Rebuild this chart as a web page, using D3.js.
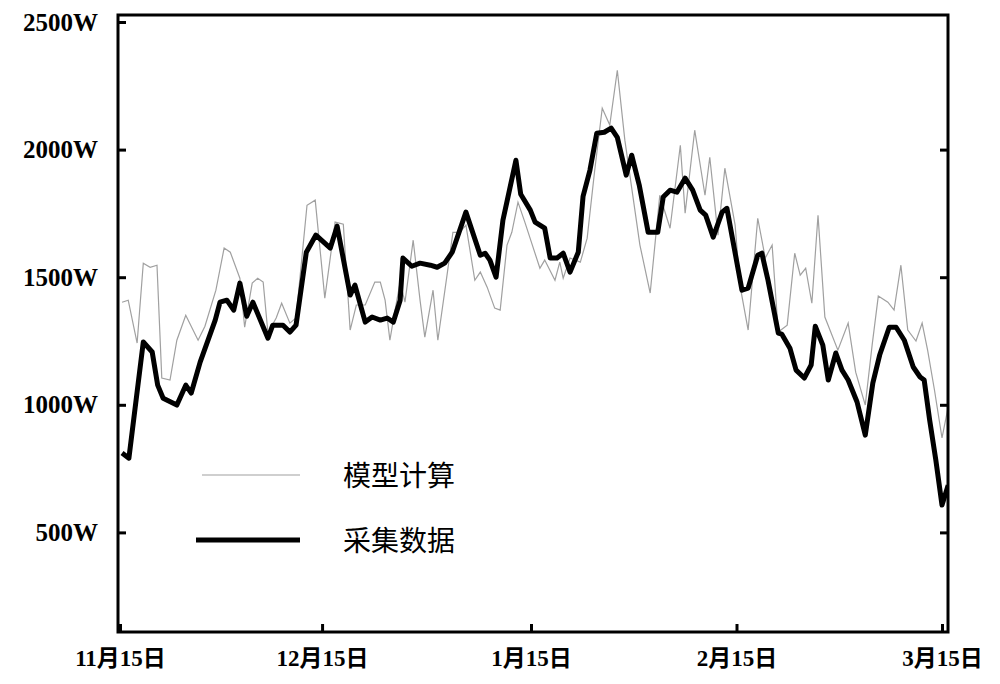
<!DOCTYPE html>
<html>
<head>
<meta charset="utf-8">
<script src="https://cdn.jsdelivr.net/npm/d3@7"></script>
<style>
  body { margin: 0; background: #fff; }
  .tick text { font-family: "Liberation Serif", "Noto Sans CJK SC", serif; font-weight: bold; font-size: 25px; fill: #000; }
</style>
</head>
<body>
<svg id="chart" width="1000" height="684"></svg>
<script>
// days since 11月15日, watts
const measuredDays = [0.3,1.3,3.4,4.7,5.5,6.3,8.3,9.6,10.4,11.7,13.9,14.6,15.6,16.6,17.5,18.5,19.4,21.6,22.3,23.8,24.8,25.7,27.2,28.6,30.7,31.7,33.6,34.3,35.8,36.8,38.0,39.0,39.9,40.9,41.3,42.6,43.8,45.3,46.3,47.4,48.5,50.5,52.6,53.3,54.0,54.9,55.9,57.8,58.5,59.9,60.6,62.0,62.8,63.8,64.7,65.7,66.9,67.6,68.6,69.6,70.7,71.7,72.6,73.9,74.7,75.8,77.1,78.5,79.3,80.3,81.3,82.5,83.6,84.7,85.5,86.6,87.9,88.6,90.8,91.7,93.1,93.7,94.6,96.1,96.6,97.8,98.7,99.9,100.9,101.5,102.6,103.4,104.5,105.4,106.3,107.6,108.8,109.9,110.9,112.3,113.3,114.5,115.8,116.8,117.4,118.2,119.1,120.0,120.9];
const measuredW = [811,791,1246,1207,1077,1026,999,1077,1046,1167,1332,1402,1410,1371,1477,1347,1402,1261,1312,1312,1285,1312,1598,1665,1614,1700,1430,1469,1324,1344,1332,1340,1324,1410,1575,1543,1555,1547,1539,1555,1598,1755,1586,1594,1567,1500,1723,1958,1825,1763,1716,1692,1575,1575,1594,1520,1598,1817,1919,2064,2068,2084,2048,1900,1978,1861,1676,1676,1814,1841,1833,1888,1841,1763,1743,1657,1755,1770,1449,1457,1586,1594,1488,1281,1277,1222,1136,1105,1156,1308,1234,1097,1203,1136,1097,1011,881,1085,1195,1304,1304,1253,1148,1109,1097,940,783,607,685];

const modelDays = [0.3,1.2,2.5,3.4,4.4,5.4,6.1,7.3,8.3,9.6,11.4,12.4,14.0,15.2,16.1,17.5,18.2,19.3,20.1,20.9,21.6,22.8,23.6,24.8,25.7,27.3,28.5,29.9,31.4,32.6,33.6,34.5,35.8,37.2,38.0,38.7,39.4,40.1,40.9,41.6,42.8,43.8,44.5,45.7,46.4,47.7,48.6,49.6,50.5,51.8,52.6,53.6,54.7,55.5,56.5,57.2,58.1,59.1,61.3,62.0,63.5,64.2,64.7,65.7,67.2,68.2,69.3,70.4,71.5,72.6,73.7,75.9,77.4,78.8,80.3,81.8,82.5,83.9,85.4,86.1,87.3,88.3,89.8,90.5,91.7,93.1,94.2,95.2,96.1,97.4,98.5,99.3,100.1,101.0,101.9,102.9,104.8,106.3,107.4,108.8,109.8,110.7,112.1,113.0,114.0,115.0,116.2,117.1,117.9,118.9,120.0,120.9];
const modelW = [1402,1410,1242,1555,1539,1547,1105,1097,1253,1351,1253,1308,1449,1614,1598,1496,1304,1477,1496,1481,1281,1340,1398,1320,1340,1782,1802,1418,1716,1708,1293,1391,1391,1481,1481,1410,1253,1363,1481,1402,1645,1410,1265,1449,1253,1500,1676,1676,1704,1488,1520,1461,1379,1371,1626,1676,1794,1716,1535,1567,1488,1559,1496,1575,1559,1653,1919,2162,2096,2311,2037,1626,1438,1821,1692,2017,1751,2076,1821,1970,1665,1927,1704,1469,1293,1731,1575,1626,1285,1312,1594,1508,1535,1398,1743,1344,1214,1320,1128,999,1234,1426,1402,1371,1547,1293,1250,1320,1214,1058,870,991];

const yTicks = [500,1000,1500,2000,2500];
const xTickDays = [0,29.5,60,90,120];
const xTickLabels = ["11月15日","12月15日","1月15日","2月15日","3月15日"];
const legendNames = ["模型计算","采集数据"];

const svg = d3.select("#chart");
const pLeft = 118, pRight = 948, pTop = 15, pBottom = 632;

const x = d3.scaleLinear().domain([0, 120]).range([120, 942]);
const y = d3.scaleLinear().domain([0, 2500]).range([660, 22]);

svg.append("defs").append("clipPath").attr("id", "clip")
    .append("rect").attr("x", pLeft).attr("y", pTop).attr("width", pRight - pLeft).attr("height", pBottom - pTop);

const line = d3.line().x(d => x(d[0])).y(d => y(d[1]));
const modelData = modelDays.map((d, i) => [d, modelW[i]]);
const measuredData = measuredDays.map((d, i) => [d, measuredW[i]]);

const g = svg.append("g").attr("clip-path", "url(#clip)");
g.append("path").datum(modelData).attr("d", line)
    .attr("fill", "none").attr("stroke", "#a0a0a0").attr("stroke-width", 1.2);
g.append("path").datum(measuredData).attr("d", line)
    .attr("fill", "none").attr("stroke", "#000").attr("stroke-width", 5).attr("stroke-linejoin", "round");

// axes
const yAxis = svg.append("g").attr("transform", `translate(${pLeft},0)`)
    .call(d3.axisLeft(y).tickValues(yTicks).tickFormat(d => d + "W").tickSize(-8).tickPadding(20));
const yAxisR = svg.append("g").attr("transform", `translate(${pRight},0)`)
    .call(d3.axisRight(y).tickValues(yTicks.slice(0, 4)).tickFormat("").tickSize(-8));
const xAxis = svg.append("g").attr("transform", `translate(0,${pBottom})`)
    .call(d3.axisBottom(x).tickValues(xTickDays).tickFormat((d, i) => xTickLabels[i]).tickSize(-8).tickPadding(18));
xAxis.selectAll(".tick text").style("font-size", "23px");
[yAxis, yAxisR, xAxis].forEach(a => {
    a.select(".domain").remove();
    a.selectAll(".tick line").attr("stroke", "#000").attr("stroke-width", 3);
});

svg.append("rect").attr("x", pLeft).attr("y", pTop).attr("width", pRight - pLeft).attr("height", pBottom - pTop)
    .attr("fill", "none").attr("stroke", "#000").attr("stroke-width", 3);

// legend
const legend = svg.append("g");
legend.append("line").attr("x1", 202).attr("x2", 300).attr("y1", 475).attr("y2", 475)
    .attr("stroke", "#a0a0a0").attr("stroke-width", 1.2);
legend.append("line").attr("x1", 196).attr("x2", 300).attr("y1", 540).attr("y2", 540)
    .attr("stroke", "#000").attr("stroke-width", 5);
legend.selectAll("text").data(legendNames).enter().append("text")
    .attr("x", 343).attr("y", (d, i) => 486 + i * 65)
    .attr("font-family", "Noto Sans CJK SC").attr("font-size", 28)
    .text(d => d);
</script>
</body>
</html>
